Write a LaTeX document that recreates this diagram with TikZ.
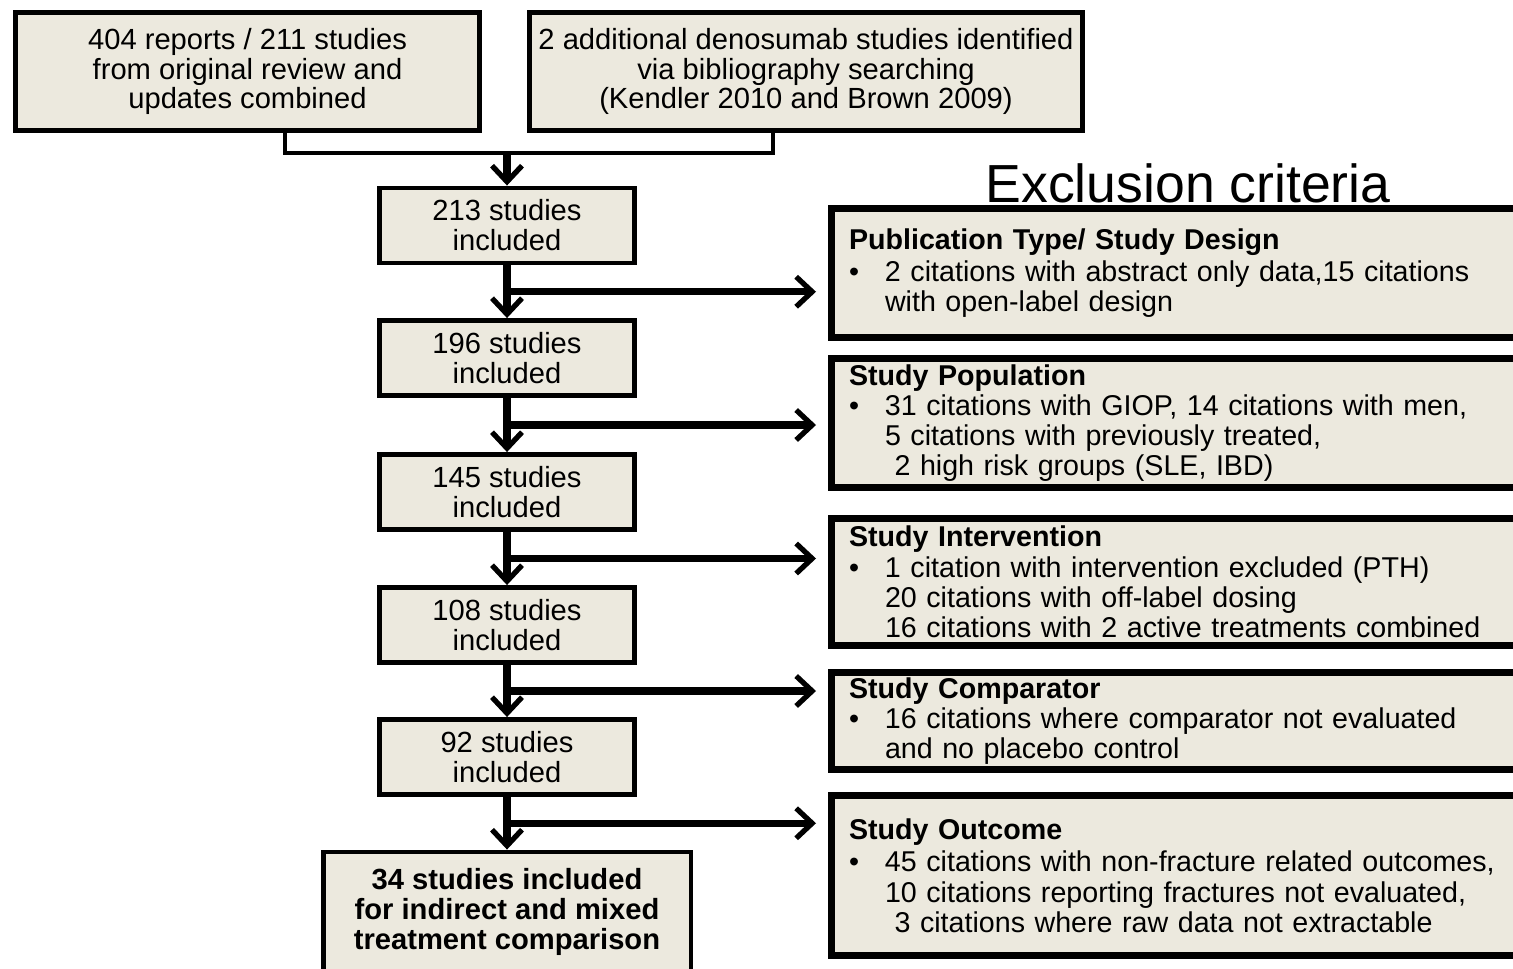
\documentclass[tikz,border=0pt]{standalone}
\usepackage{fontspec}
\setmainfont{Liberation Sans}
\usepackage{xcolor}
\usetikzlibrary{arrows.meta, calc, positioning}

\definecolor{boxfill}{RGB}{236,233,222}
\newcommand\critbul{\makebox[0.72cm][l]{\textbullet}}
\newcommand\critind{\hspace*{0.72cm}}

\tikzset{
    stage/.style={draw, line width=2.8pt, fill=boxfill, align=center, inner sep=0pt,
        font=\fontsize{16.6}{17}\selectfont},
    crit/.style={draw, line width=4pt, fill=boxfill, align=left, anchor=west,
        text width=14.2cm, inner xsep=0.35cm, inner ysep=0pt,
        font=\fontsize{16.3}{17.2}\selectfont},
    merge/.style={line width=2.8pt},
    flow/.style={line width=4pt, -{Straight Barb[length=0.32cm,width=0.6cm,line width=3pt]}}
}

\begin{document}
\begin{tikzpicture}[x=0.02cm, y=-0.02cm]
    \useasboundingbox (0,0) rectangle (1513,969);
    \clip (0,0) rectangle (1513,969);

    \node[stage, minimum width=9.28cm, minimum height=2.36cm] (src) at (247.5,71.5)
        {404 reports / 211 studies\\from original review and\\updates combined};
    \node[stage, minimum width=11.06cm, minimum height=2.36cm] (extra) at (806,71.5)
        {2 additional denosumab studies identified\\via bibliography searching\\(Kendler 2010 and Brown 2009)};

    \foreach \n/\y/\t in {s1/225.5/213, s2/358/196, s3/492/145, s4/625/108, s5/757/92}
        \node[stage, minimum width=5.1cm, minimum height=1.5cm] (\n) at (507,\y) {\t\ studies\\included};

    \node[stage, font=\fontsize{16.6}{17}\selectfont\bfseries, minimum width=7.36cm, minimum height=2.4cm] (final) at (507,912)
        {34 studies included\\for indirect and mixed\\treatment comparison};

    \node[font=\fontsize{30.5}{31}\selectfont] (title) at (1188,183) {Exclusion criteria};

    \node[crit, minimum height=2.58cm] (pub) at (828,273)
        {\textbf{Publication Type/ Study Design}\\[1pt]
         \critbul 2 citations with abstract only data,15 citations\\
         \critind with open-label design};
    \node[crit, minimum height=2.58cm] (pop) at (828,423)
        {\textbf{Study Population}\\
         \critbul 31 citations with GIOP, 14 citations with men,\\
         \critind 5 citations with previously treated,\\
         \critind\ 2 high risk groups (SLE, IBD)};
    \node[crit, minimum height=2.54cm] (intv) at (828,582)
        {\textbf{Study Intervention}\\
         \critbul 1 citation with intervention excluded (PTH)\\
         \critind 20 citations with off-label dosing\\
         \critind 16 citations with 2 active treatments combined};
    \node[crit, minimum height=1.94cm] (comp) at (828,721)
        {\textbf{Study Comparator}\\
         \critbul 16 citations where comparator not evaluated\\
         \critind and no placebo control};
    \node[crit, minimum height=3.2cm] (outc) at (828,875.5)
        {\textbf{Study Outcome}\\[1.5pt]
         \critbul 45 citations with non-fracture related outcomes,\\
         \critind 10 citations reporting fractures not evaluated,\\
         \critind\ 3 citations where raw data not extractable};

    \coordinate (jl) at (285,153);
    \coordinate (jr) at (773,153);
    \draw[merge] (src.south -| jl) |- (jr) -- (extra.south -| jr);
    \draw[flow] (s1.north |- jl) -- (s1.north);

    \foreach \a/\b/\c in {s1/s2/pub, s2/s3/pop, s3/s4/intv, s4/s5/comp, s5/final/outc} {
        \draw[flow] (\a.south) -- (\b.north);
        \coordinate (m) at ($(\a.south)!0.5!(\b.north)$);
        \draw[flow, shorten >=0.24cm] (m) -- (m -| \c.west);
    }
\end{tikzpicture}
\end{document}
